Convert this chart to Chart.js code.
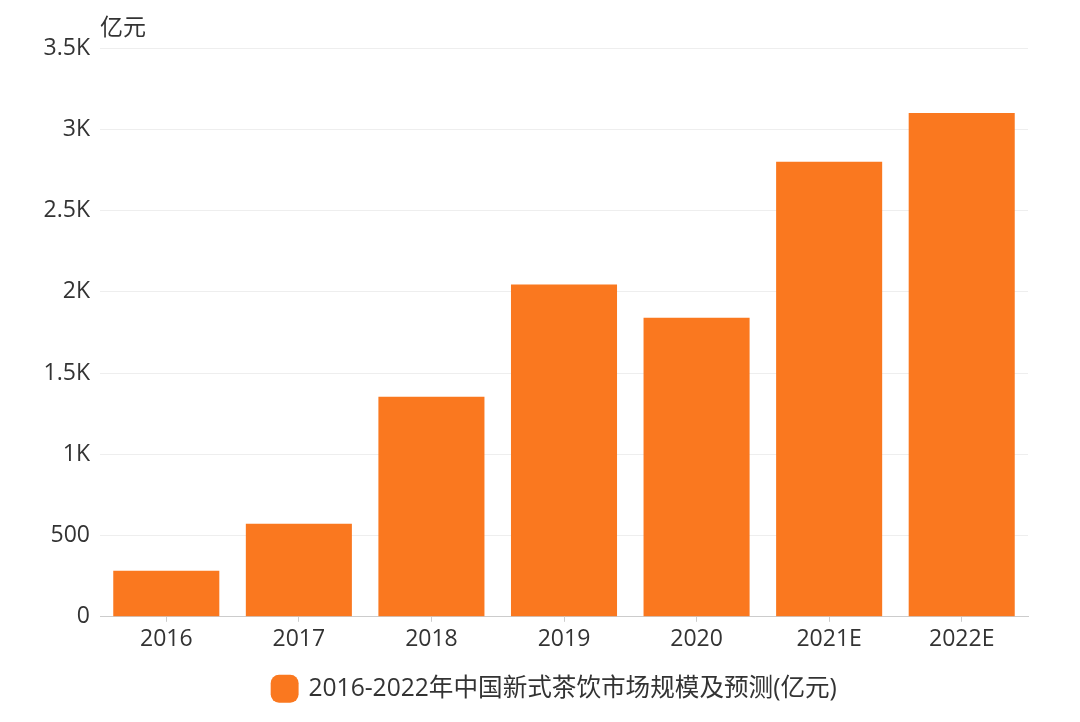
<!DOCTYPE html>
<html>
<head>
<meta charset="utf-8">
<script src="https://cdn.jsdelivr.net/npm/chart.js@4.4.1/dist/chart.umd.min.js"></script>
<style>
  html, body { margin: 0; padding: 0; background: #fff; }
  #wrap { width: 1080px; height: 722px; }
</style>
</head>
<body>
<div id="wrap"><canvas id="tea"></canvas></div>
<script>
// data
var years = ["2016", "2017", "2018", "2019", "2020", "2021E", "2022E"];
var marketSize = [283, 573, 1354, 2044, 1840, 2800, 3100];
var seriesName = "2016-2022年中国新式茶饮市场规模及预测(亿元)";
var unitLabel = "亿元";

var fontFamily = "'Open Sans', 'Noto Sans CJK SC', sans-serif";
var barColor = "#fa781f";

// draws the unit above the y axis, and centres the legend under the plot
var unitPlugin = {
    id: "unitText",
    afterLayout: function (chart) {
        var lg = chart.legend;
        var shift = (chart.chartArea.left + chart.chartArea.right) / 2 - 9 - (lg.left + lg.right) / 2;
        lg.left += shift;
        lg.right += shift;
        lg.top += 3;
        lg.bottom += 3;
    },
    afterDraw: function (chart) {
        var ctx = chart.ctx;
        ctx.save();
        ctx.font = "23px " + fontFamily;
        ctx.fillStyle = "#333";
        ctx.textBaseline = "middle";
        ctx.textAlign = "left";
        ctx.fillText(unitLabel, chart.chartArea.left, 28);
        ctx.restore();
    }
};

var ctx = document.getElementById("tea").getContext("2d");
new Chart(ctx, {
    type: "bar",
    data: {
        labels: years,
        datasets: [{
            label: seriesName,
            data: marketSize,
            backgroundColor: barColor,
            borderWidth: 0,
            barPercentage: 0.8,
            categoryPercentage: 1.0
        }]
    },
    options: {
        responsive: true,
        maintainAspectRatio: false,
        animation: false,
        layout: { padding: { top: 48, right: 52, left: 0, bottom: 14 } },
        plugins: {
            tooltip: { enabled: false },
            legend: {
                position: "bottom",
                labels: {
                    usePointStyle: true,
                    pointStyle: "rectRounded",
                    boxWidth: 23,
                    boxHeight: 23,
                    padding: 16,
                    color: "#333",
                    font: { family: fontFamily, size: 24.6 }
                }
            }
        },
        scales: {
            x: {
                grid: {
                    display: true,
                    drawOnChartArea: false,
                    drawTicks: true,
                    tickLength: 5,
                    offset: false,
                    color: "#ccc"
                },
                border: { color: "#ccc" },
                ticks: {
                    color: "#333",
                    padding: 4,
                    font: { family: fontFamily, size: 23 }
                }
            },
            y: {
                min: 0,
                max: 3500,
                afterFit: function (scale) { scale.width = 100; },
                grid: { color: "#eeeeee", drawTicks: false },
                border: { display: false },
                ticks: {
                    stepSize: 500,
                    padding: 10,
                    color: "#333",
                    font: { family: fontFamily, size: 23 },
                    callback: function (v) {
                        if (v >= 1000) return (v / 1000) + "K";
                        return v;
                    }
                }
            }
        }
    },
    plugins: [unitPlugin]
});
</script>
</body>
</html>
